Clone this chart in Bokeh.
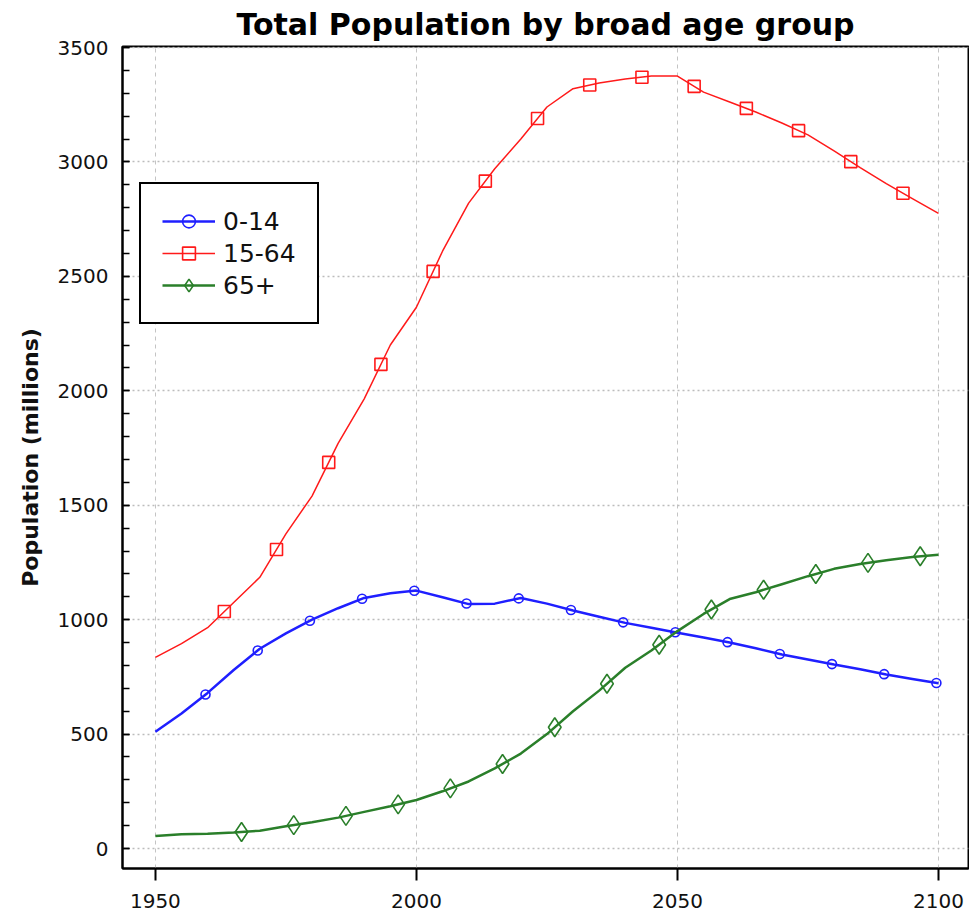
import numpy as np
from bokeh.plotting import figure
from bokeh.models import Range1d, FixedTicker, Legend, LegendItem, ColumnDataSource
from bokeh.embed import file_html
from bokeh.resources import INLINE

# ---- data (millions) ----
years = [1950, 1955, 1960, 1965, 1970, 1975, 1980, 1985, 1990, 1995, 2000,
         2005, 2010, 2015, 2020, 2025, 2030, 2035, 2040, 2045, 2050,
         2055, 2060, 2065, 2070, 2075, 2080, 2085, 2090, 2095, 2100]
age_0_14 = [510, 590, 680, 780, 873, 940, 1000, 1050, 1095, 1115, 1127,
            1098, 1068, 1070, 1095, 1070, 1040, 1013, 986, 965, 943,
            922, 900, 875, 848, 826, 804, 783, 760, 741, 722]
age_15_64 = [835, 895, 965, 1075, 1185, 1375, 1540, 1770, 1965, 2200, 2365,
             2610, 2820, 2970, 3100, 3240, 3320, 3345, 3362, 3375, 3375,
             3305, 3262, 3218, 3170, 3118, 3048, 2975, 2905, 2840, 2775]
age_65 = [55, 62, 65, 70, 78, 97, 115, 135, 160, 185, 212,
          250, 293, 350, 415, 500, 600, 690, 790, 865, 950,
          1025, 1090, 1120, 1155, 1190, 1222, 1243, 1260, 1274, 1284]
series_names = ["0-14", "15-64", "65+"]
x_ticks = [1950, 2000, 2050, 2100]
y_major = [0, 500, 1000, 1500, 2000, 2500, 3000, 3500]
y_minor = list(range(0, 3501, 100))

# marker positions along the curves (every 10 years, offset per series)
mk_years_0_14 = np.arange(1959.6, 2100.0, 10.0)
mk_years_15_64 = np.arange(1963.2, 2100.0, 10.0)
mk_years_65 = np.arange(1966.5, 2100.0, 10.0)

p = figure(width=969, height=916,
           x_range=Range1d(1943.7, 2105.75), y_range=Range1d(-87.3, 3504.4),
           output_backend="svg", toolbar_location=None,
           min_border_left=122, min_border_right=1,
           min_border_top=45, min_border_bottom=48)

p.title.text = "Total Population by broad age group"
p.title.text_font = "DejaVu Sans"
p.title.text_font_size = "30px"
p.title.text_font_style = "bold"
p.title.text_color = "black"
p.title.align = "center"
p.title.standoff = 9

p.outline_line_color = "black"
p.outline_line_width = 2
p.outline_line_alpha = 1.0

# grid
p.xgrid.ticker = FixedTicker(ticks=x_ticks)
p.xgrid.grid_line_color = "#c4c4c4"
p.xgrid.grid_line_dash = "4 4"
p.xgrid.grid_line_width = 1
p.ygrid.grid_line_color = "#bcbcbc"
p.ygrid.grid_line_dash = "2 3"
p.ygrid.grid_line_width = 1.5

# axes
p.xaxis.ticker = FixedTicker(ticks=x_ticks)
p.xaxis.major_tick_out = 12
p.xaxis.major_tick_in = 0
p.xaxis.minor_tick_out = 0
p.xaxis.major_tick_line_width = 2
p.xaxis.major_label_standoff = 13
p.yaxis.ticker = FixedTicker(ticks=y_major, minor_ticks=y_minor)
p.yaxis.major_tick_out = 0
p.yaxis.major_tick_in = 7
p.yaxis.minor_tick_out = 0
p.yaxis.minor_tick_in = 7
p.yaxis.major_tick_line_width = 1.5
p.yaxis.minor_tick_line_width = 1.5
p.yaxis.major_label_standoff = 14
for ax in (p.xaxis, p.yaxis):
    ax.axis_line_color = "black"
    ax.axis_line_width = 2
    ax.major_tick_line_color = "black"
    ax.minor_tick_line_color = "black"
    ax.major_label_text_font = "DejaVu Sans"
    ax.major_label_text_font_size = "20px"
    ax.major_label_text_color = "#111111"
p.yaxis.axis_label = "Population (millions)"
p.yaxis.axis_label_text_font = "DejaVu Sans"
p.yaxis.axis_label_text_font_size = "22px"
p.yaxis.axis_label_text_font_style = "bold"
p.yaxis.axis_label_text_color = "#111111"
p.yaxis.axis_label_standoff = 12

colors = ["#1f1fff", "#ff1a1a", "#2a7f2a"]
widths = [2.5, 1.5, 2.5]
values = [age_0_14, age_15_64, age_65]
mk_years = [mk_years_0_14, mk_years_15_64, mk_years_65]
markers = ["circle", "square", "diamond"]
sizes = [9, 12, 19]

items = []
for name, vals, col, lw, myears, mk, sz in zip(series_names, values, colors, widths,
                                                mk_years, markers, sizes):
    src = ColumnDataSource(dict(x=years, y=vals))
    lr = p.line("x", "y", source=src, line_color=col, line_width=lw)
    msrc = ColumnDataSource(dict(x=myears, y=np.interp(myears, years, vals)))
    mr = p.scatter("x", "y", source=msrc, marker=mk, size=sz, line_color=col,
                   line_width=1.6, fill_color=None)
    items.append(LegendItem(label=name, renderers=[lr, mr]))

legend = Legend(items=items, location=(17, 544), margin=0, padding=21, spacing=0,
                glyph_width=53, glyph_height=32, label_height=32, label_standoff=8,
                label_text_font="DejaVu Sans", label_text_font_size="25px",
                label_text_color="#111111",
                border_line_color="black", border_line_width=2, border_line_alpha=1.0,
                background_fill_color="white", background_fill_alpha=1.0)
p.add_layout(legend)

open("out.html", "w").write(file_html(p, INLINE))
